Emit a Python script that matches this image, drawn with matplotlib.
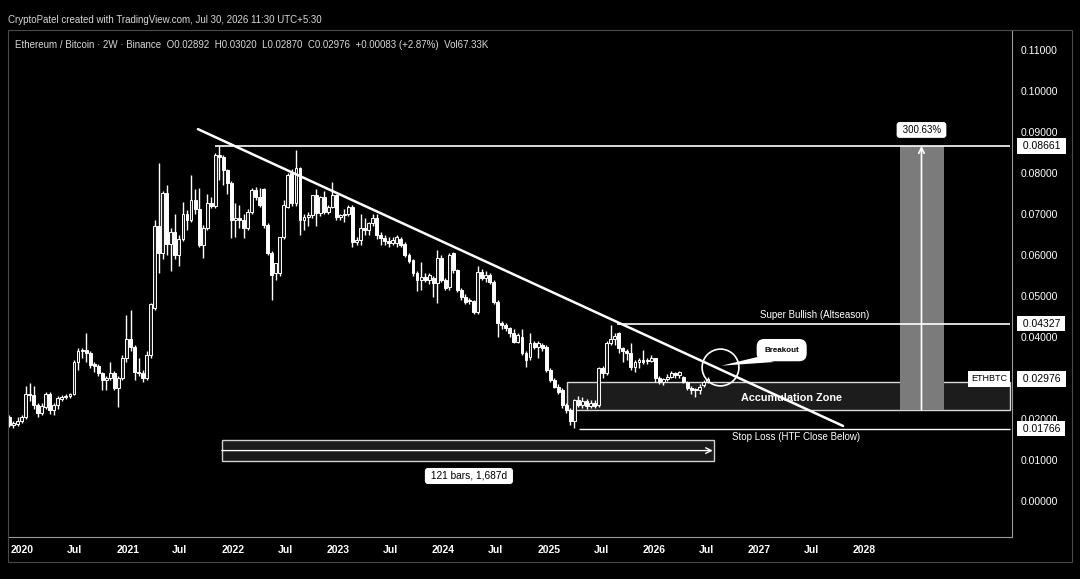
import pandas as pd
import matplotlib
matplotlib.use("Agg")
import matplotlib.pyplot as plt
import matplotlib.dates as mdates
from matplotlib.patches import Rectangle, Polygon

plt.rcParams["font.family"] = ["Liberation Sans", "DejaVu Sans"]

# ETH/BTC, 2-week candles (first bar mid Nov 2019)
first_bar = "2019-11-18"

opens = [
    .0205, .0185, .0188, .0195, .0205, .0262, .0258, .0235, .0215, .0230,
    .0262, .0222, .0235, .0250, .0254, .0256, .0262, .0338, .0365, .0368,
    .0362, .0332, .0330, .0311, .0295, .0300, .0312, .0275, .0300, .0350,
    .0395, .0375, .0315, .0312, .0300, .0355, .0470, .0670, .0604, .0752,
    .0628, .0655, .0600, .0640, .0700, .0685, .0735, .0712, .0625, .0665,
    .0726, .0720, .0845, .0840, .0807, .0775, .0685, .0690, .0685, .0665,
    .0706, .0759, .0742, .0760, .0673, .0604, .0555, .0555, .0645, .0718,
    .0799, .0726, .0811, .0685, .0693, .0698, .0746, .0702, .0742, .0706,
    .0718, .0746, .0693, .0698, .0700, .0718, .0632, .0637, .0665, .0660,
    .0677, .0690, .0649, .0641, .0635, .0630, .0630, .0640, .0628, .0600,
    .0588, .0555, .0539, .0547, .0539, .0545, .0531, .0592, .0539, .0523,
    .0604, .0563, .0515, .0498, .0490, .0488, .0462, .0559, .0543, .0551,
    .0535, .0486, .0433, .0429, .0421, .0409, .0389, .0401, .0360, .0352,
    .0385, .0376, .0380, .0376, .0320, .0295, .0279, .0271, .0235, .0222,
    .0195, .0246, .0234, .0244, .0232, .0240, .0234, .0324, .0312, .0385,
    .0395, .0409, .0372, .0366, .0362, .0328, .0340, .0344, .0344, .0342,
    .0348, .0299, .0291, .0298, .0303, .0311, .0307, .0303, .0291, .0275,
    .0271, .0270, .0283, .02892,
]
highs = [
    .0210, .0195, .0205, .0210, .0280, .0287, .0280, .0240, .0240, .0265,
    .0265, .0240, .0255, .0258, .0260, .0264, .0345, .0372, .0372, .0409,
    .0365, .0340, .0335, .0315, .0305, .0340, .0318, .0305, .0355, .0454,
    .0466, .0380, .0350, .0320, .0365, .0484, .0685, .0824, .0757, .0770,
    .0665, .0700, .0650, .0730, .0710, .0795, .0760, .0763, .0672, .0750,
    .0742, .0848, .0866, .0845, .0810, .0780, .0726, .0722, .0700, .0712,
    .0763, .0765, .0763, .0763, .0677, .0610, .0580, .0645, .0734, .0800,
    .0810, .0856, .0815, .0700, .0706, .0746, .0760, .0745, .0755, .0722,
    .0779, .0750, .0700, .0712, .0722, .0722, .0645, .0700, .0690, .0680,
    .0700, .0700, .0655, .0650, .0645, .0645, .0650, .0645, .0632, .0605,
    .0590, .0560, .0584, .0555, .0555, .0548, .0612, .0600, .0545, .0604,
    .0608, .0565, .0520, .0505, .0495, .0490, .0572, .0565, .0560, .0555,
    .0540, .0490, .0440, .0435, .0425, .0420, .0410, .0420, .0365, .0409,
    .0390, .0390, .0385, .0380, .0325, .0300, .0285, .0275, .0238, .0226,
    .0250, .0255, .0254, .0250, .0246, .0246, .0328, .0330, .0390, .0429,
    .0410, .0412, .0375, .0370, .0385, .0344, .0350, .0368, .0350, .0355,
    .0350, .0305, .0300, .0310, .0316, .0315, .0318, .0305, .0293, .0280,
    .0275, .0285, .0295, .03020,
]
lows = [
    .0180, .0178, .0182, .0190, .0200, .0245, .0225, .0205, .0210, .0225,
    .0212, .0210, .0225, .0245, .0250, .0252, .0258, .0320, .0350, .0340,
    .0325, .0315, .0305, .0271, .0271, .0295, .0270, .0230, .0295, .0340,
    .0365, .0295, .0305, .0290, .0295, .0350, .0465, .0555, .0590, .0600,
    .0560, .0590, .0572, .0635, .0660, .0680, .0700, .0620, .0592, .0660,
    .0715, .0715, .0783, .0770, .0750, .0641, .0645, .0665, .0641, .0660,
    .0700, .0735, .0718, .0665, .0600, .0490, .0539, .0550, .0640, .0715,
    .0720, .0720, .0650, .0660, .0670, .0690, .0670, .0695, .0700, .0700,
    .0715, .0685, .0685, .0680, .0695, .0620, .0625, .0625, .0650, .0650,
    .0670, .0640, .0625, .0625, .0620, .0625, .0620, .0620, .0595, .0580,
    .0550, .0511, .0515, .0535, .0530, .0498, .0482, .0535, .0515, .0515,
    .0555, .0510, .0490, .0480, .0480, .0455, .0455, .0540, .0535, .0530,
    .0480, .0401, .0420, .0415, .0400, .0385, .0385, .0355, .0328, .0345,
    .0370, .0350, .0365, .0315, .0290, .0275, .0262, .0228, .0215, .0185,
    .0177, .0230, .0228, .0225, .0226, .0228, .0230, .0300, .0308, .0380,
    .0380, .0360, .0340, .0345, .0320, .0315, .0325, .0335, .0335, .0340,
    .0290, .0285, .0283, .0292, .0300, .0300, .0300, .0288, .0270, .0262,
    .0254, .0262, .0278, .02870,
]
closes = [
    .0185, .0190, .0195, .0205, .0262, .0258, .0235, .0215, .0232, .0262,
    .0222, .0235, .0252, .0254, .0256, .0262, .0338, .0365, .0368, .0362,
    .0332, .0330, .0311, .0295, .0300, .0312, .0275, .0300, .0350, .0395,
    .0375, .0315, .0312, .0300, .0355, .0480, .0670, .0604, .0752, .0628,
    .0655, .0600, .0640, .0700, .0685, .0735, .0712, .0625, .0665, .0726,
    .0720, .0845, .0840, .0807, .0775, .0685, .0690, .0685, .0665, .0706,
    .0759, .0742, .0722, .0673, .0604, .0551, .0580, .0645, .0722, .0795,
    .0726, .0811, .0685, .0693, .0698, .0746, .0702, .0742, .0706, .0718,
    .0746, .0693, .0698, .0700, .0718, .0632, .0637, .0665, .0660, .0677,
    .0690, .0649, .0641, .0635, .0630, .0637, .0645, .0624, .0600, .0585,
    .0555, .0539, .0547, .0539, .0551, .0531, .0592, .0539, .0519, .0600,
    .0563, .0515, .0498, .0486, .0488, .0462, .0559, .0543, .0551, .0535,
    .0486, .0433, .0429, .0421, .0409, .0389, .0405, .0360, .0344, .0385,
    .0376, .0385, .0372, .0320, .0295, .0279, .0267, .0235, .0222, .0195,
    .0246, .0234, .0244, .0232, .0240, .0232, .0324, .0312, .0385, .0395,
    .0403, .0372, .0366, .0362, .0328, .0340, .0344, .0340, .0342, .0348,
    .0299, .0291, .0298, .0303, .0311, .0307, .0315, .0291, .0275, .0271,
    .0270, .0279, .0291, .02976,
]

date_ticks = ["2020-01-01", "2020-07-01", "2021-01-01", "2021-07-01", "2022-01-01",
              "2022-07-01", "2023-01-01", "2023-07-01", "2024-01-01", "2024-07-01",
              "2025-01-01", "2025-07-01", "2026-01-01", "2026-07-01", "2027-01-01",
              "2027-07-01", "2028-01-01"]
date_labels = ["2020", "Jul", "2021", "Jul", "2022", "Jul", "2023", "Jul", "2024",
               "Jul", "2025", "Jul", "2026", "Jul", "2027", "Jul", "2028"]
# 0.03000 sits under the last-price box on the scale, so it is not listed
price_ticks = [0.00, 0.01, 0.02, 0.04, 0.05, 0.06, 0.07, 0.08, 0.09, 0.10, 0.11]

# levels drawn on the chart
target = 0.08661
super_bullish = 0.04327
last_close = 0.02976
stop_loss = 0.01766
zone_low, zone_high = 0.0222, 0.0291
gain_label = "300.63%"
range_label = "121 bars, 1,687d"

header = "CryptoPatel created with TradingView.com, Jul 30, 2026 11:30 UTC+5:30"
title = ("Ethereum / Bitcoin \u00b7 2W \u00b7 Binance  O0.02892  H0.03020  L0.02870  "
         "C0.02976  +0.00083 (+2.87%)  Vol67.33K")


def d(s):
    return mdates.date2num(pd.Timestamp(s))


dates = pd.date_range(first_bar, periods=len(closes), freq="14D")
xs = mdates.date2num(dates)

fig = plt.figure(figsize=(10.8, 5.79), dpi=100, facecolor="black")
ax = fig.add_axes([8 / 1080, 42 / 579, 1004 / 1080, 507 / 579])
ax.set_facecolor("black")
ax.set_xlim(d("2019-11-13"), d("2029-05-27"))
ax.set_ylim(-0.00878, 0.11488)

# candles
ax.vlines(xs, lows, highs, color="white", lw=1.0, zorder=3)
bottoms = [min(o, c) for o, c in zip(opens, closes)]
heights = [max(abs(c - o), 0.0003) for o, c in zip(opens, closes)]
faces = ["#202020" if c >= o else "white" for o, c in zip(opens, closes)]
ax.bar(xs, heights, bottom=bottoms, width=10, color=faces, edgecolor="white",
       linewidth=0.7, zorder=4)

x_right = d("2029-05-20")

# accumulation zone
ax.add_patch(Rectangle((d("2025-03-06"), zone_low), x_right - d("2025-03-06"),
                       zone_high - zone_low, facecolor="#1c1c1c",
                       edgecolor="#d8d8d8", lw=1.0, zorder=1))
ax.text(d("2027-04-22"), 0.0252, "Accumulation Zone", color="white",
        fontsize=7.8, fontweight="bold", ha="center", va="center", zorder=9)

# projected move column
col_l, col_r = d("2028-05-04"), d("2028-10-03")
ax.add_patch(Rectangle((col_l, zone_low), col_r - col_l, target - zone_low,
                       facecolor="#7b7b7b", edgecolor="none", zorder=2))
ax.annotate("", xy=(d("2028-07-17"), target), xytext=(d("2028-07-17"), zone_low),
            arrowprops=dict(arrowstyle="->", color="white", lw=1.2,
                            shrinkA=0, shrinkB=0), zorder=7)
ax.text(d("2028-07-17"), 0.0905, " " + gain_label + " ", color="black", fontsize=7,
        ha="center", va="center", zorder=9,
        bbox=dict(boxstyle="round,pad=0.3", facecolor="white", edgecolor="none"))

# horizontal levels
ax.hlines(target, d("2021-10-31"), x_right, color="white", lw=1.2, zorder=6)
ax.hlines(super_bullish, d("2025-08-24"), x_right, color="white", lw=1.2, zorder=6)
ax.hlines(stop_loss, d("2025-04-16"), x_right, color="white", lw=1.0, zorder=6)
ax.text(d("2027-07-12"), 0.0454, "Super Bullish (Altseason)", color="white",
        fontsize=7, ha="center", va="center", zorder=9)
ax.text(d("2027-05-10"), 0.0156, "Stop Loss (HTF Close Below)", color="white",
        fontsize=7, ha="center", va="center", zorder=9)

# descending trendline
ax.plot([d("2021-09-02"), d("2027-10-19")], [0.0907, 0.0183], color="white",
        lw=1.8, solid_capstyle="round", zorder=6)

# breakout marker and callout
ax.plot([d("2026-08-19")], [0.0326], marker="o", markersize=26.5,
        markerfacecolor="none", markeredgecolor="white", markeredgewidth=1.2, zorder=7)
ax.add_patch(Polygon([[d("2026-08-23"), 0.0330], [d("2026-12-24"), 0.0351],
                      [d("2027-02-22"), 0.0339]], closed=True, facecolor="white",
                     edgecolor="none", zorder=8))
ax.text(d("2027-03-20"), 0.0368, "Breakout", color="black", fontsize=5.8,
        fontweight="bold", ha="center", va="center", zorder=9,
        bbox=dict(boxstyle="round,pad=0.95", facecolor="white", edgecolor="none"))

# date range measure
r_l, r_r = d("2021-11-24"), d("2026-07-27")
ax.add_patch(Rectangle((r_l, 0.00976), r_r - r_l, 0.00512, facecolor="#1b1b1b",
                       edgecolor="#d0d0d0", lw=1.0, zorder=5))
ax.annotate("", xy=(r_r - 3, 0.0123), xytext=(r_l, 0.0123),
            arrowprops=dict(arrowstyle="->", color="white", lw=1.0,
                            shrinkA=0, shrinkB=0), zorder=6)
ax.text(d("2024-03-30"), 0.0061, " " + range_label + " ", color="black", fontsize=7.3,
        ha="center", va="center", zorder=9,
        bbox=dict(boxstyle="round,pad=0.3", facecolor="white", edgecolor="none"))

# symbol label at last price
ax.text(d("2029-05-10"), last_close, "ETHBTC", color="black", fontsize=6.5,
        ha="right", va="center", zorder=9,
        bbox=dict(boxstyle="square,pad=0.35", facecolor="white", edgecolor="none"))

# axes styling
for side in ["top", "left"]:
    ax.spines[side].set_visible(False)
for side in ["right", "bottom"]:
    ax.spines[side].set_color("#9a9a9a")
    ax.spines[side].set_linewidth(0.8)

ax.yaxis.tick_right()
ax.set_yticks(price_ticks)
ax.set_yticklabels([f"{v:.5f}" for v in price_ticks])
ax.tick_params(axis="y", length=0, pad=6, labelsize=7.5, labelcolor="white")
ax.set_xticks([d(s) for s in date_ticks])
ax.set_xticklabels(date_labels, fontweight="bold")
ax.tick_params(axis="x", length=0, pad=6, labelsize=7.5, labelcolor="white")

# price level boxes on the scale
for lvl in [target, super_bullish, last_close, stop_loss]:
    ax.text(1.0076, lvl, f" {lvl:.5f} ", transform=ax.get_yaxis_transform(),
            color="black", fontsize=7.5, ha="left", va="center", clip_on=False,
            zorder=10,
            bbox=dict(boxstyle="square,pad=0.25", facecolor="white", edgecolor="none"))

# frame and header texts
fig.add_artist(Rectangle((8 / 1080, 1 - 562 / 579), 1064 / 1080, 532 / 579,
                         transform=fig.transFigure, fill=False,
                         edgecolor="#4a4a4a", lw=0.8))
fig.text(8 / 1080, 1 - 20 / 579, header, color="#d8d8d8", fontsize=7.0,
         ha="left", va="center")
fig.text(15 / 1080, 1 - 45 / 579, title, color="#d8d8d8", fontsize=7.0,
         ha="left", va="center")

fig.savefig("out.png", dpi=100, facecolor="black")
